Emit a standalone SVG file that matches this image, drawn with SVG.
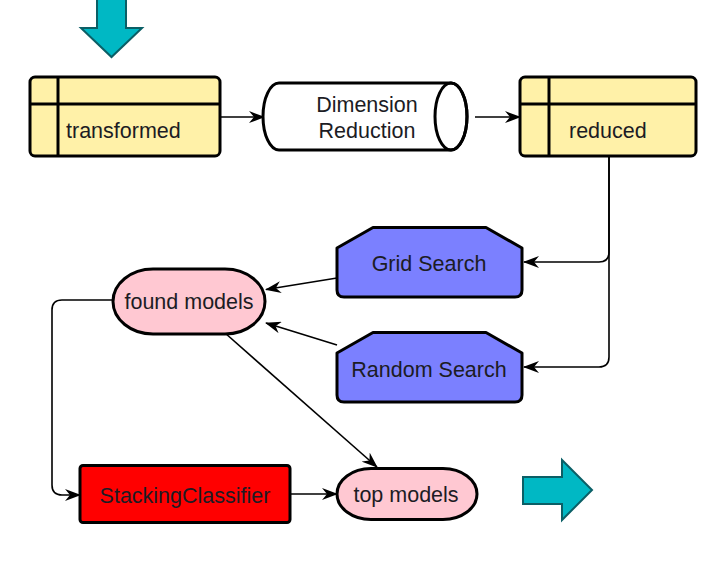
<svg xmlns="http://www.w3.org/2000/svg" width="722" height="567" viewBox="0 0 722 567">
<style>
.t{font-family:"Liberation Sans",Arial,sans-serif;font-size:21.5px;fill:#1c1c24}
.yb{fill:#fff1a8;stroke:#000;stroke-width:3}
.ln{fill:none;stroke:#000;stroke-width:3}
.blue{fill:#7b80ff;stroke:#000;stroke-width:3;stroke-linejoin:round}
.pink{fill:#ffc8d2;stroke:#000;stroke-width:3}
.c{fill:none;stroke:#000;stroke-width:1.6}
.big{fill:#00b8c4;stroke:#0b5f66;stroke-width:2}
</style>
<defs>
<marker id="ah" markerUnits="userSpaceOnUse" markerWidth="16" markerHeight="12" viewBox="0 0 16 12" refX="15" refY="6" orient="auto">
<path d="M0,0 L16,6 L0,12 L5,6 Z" fill="#000"/>
</marker>
</defs>
<rect width="722" height="567" fill="#fff"/>
<g id="arrow-in"><polygon class="big" points="97,-2 126,-2 126,28 142,28 111.5,57 81,28 97,28"/></g>
<g id="arrow-out"><polygon class="big" points="523,477 562,477 562,460 592,490 562,520 562,504 523,504"/></g>
<g id="connectors">
<path class="c" d="M220 117 L264 117" marker-end="url(#ah)"/>
<path class="c" d="M475 117 L520 117" marker-end="url(#ah)"/>
<path class="c" d="M609 157 L609 252 Q609 262 599 262 L524 262" marker-end="url(#ah)"/>
<path class="c" d="M609 157 L609 357 Q609 367 599 367 L524 367" marker-end="url(#ah)"/>
<path class="c" d="M337 278 L266 289.5" marker-end="url(#ah)"/>
<path class="c" d="M337 345 L266 323" marker-end="url(#ah)"/>
<path class="c" d="M113 300 L62 300 Q52 300 52 310 L52 485 Q52 495 62 495 L80 495" marker-end="url(#ah)"/>
<path class="c" d="M290 494 L337 494" marker-end="url(#ah)"/>
<path class="c" d="M225 333 L377 467" marker-end="url(#ah)"/>
</g>
<g id="transformed">
<rect class="yb" x="30" y="77" width="190" height="79" rx="5"/>
<line class="ln" x1="30" y1="104" x2="220" y2="104"/>
<line class="ln" x1="58" y1="77" x2="58" y2="156"/>
<text class="t" x="66" y="138">transformed</text>
</g>
<g id="dimension-reduction">
<path d="M279 83 L451 83 A16 33.5 0 0 1 451 150 L279 150 A16 33.5 0 0 1 279 83 Z" fill="#fff" stroke="#000" stroke-width="3"/>
<ellipse cx="451" cy="116.5" rx="16" ry="33.5" fill="none" stroke="#000" stroke-width="3"/>
<text class="t" x="367" y="112" text-anchor="middle">Dimension</text>
<text class="t" x="367" y="138" text-anchor="middle">Reduction</text>
</g>
<g id="reduced">
<rect class="yb" x="520" y="77" width="176" height="79" rx="5"/>
<line class="ln" x1="520" y1="104" x2="696" y2="104"/>
<line class="ln" x1="549" y1="77" x2="549" y2="156"/>
<text class="t" x="569" y="138">reduced</text>
</g>
<g id="grid-search">
<path class="blue" d="M337 248 L373 227.5 L486 227.5 L522 248 L522 290 Q522 297 515 297 L344 297 Q337 297 337 290 Z"/>
<text class="t" x="429" y="271" text-anchor="middle">Grid Search</text>
</g>
<g id="random-search">
<path class="blue" d="M337 353 L373 332.5 L486 332.5 L522 353 L522 395 Q522 402 515 402 L344 402 Q337 402 337 395 Z"/>
<text class="t" x="429" y="377" text-anchor="middle">Random Search</text>
</g>
<g id="found-models">
<rect class="pink" x="113" y="269" width="152" height="65" rx="40" ry="32.5"/>
<text class="t" x="189" y="308.5" text-anchor="middle">found models</text>
</g>
<g id="stacking-classifier">
<rect x="80" y="465.5" width="210" height="57" rx="3" fill="#ff0000" stroke="#000" stroke-width="3"/>
<text class="t" x="185" y="503" text-anchor="middle">StackingClassifier</text>
</g>
<g id="top-models">
<rect class="pink" x="337" y="468.5" width="140" height="51" rx="34" ry="25.5"/>
<text class="t" x="406" y="501.5" text-anchor="middle">top models</text>
</g>
</svg>
